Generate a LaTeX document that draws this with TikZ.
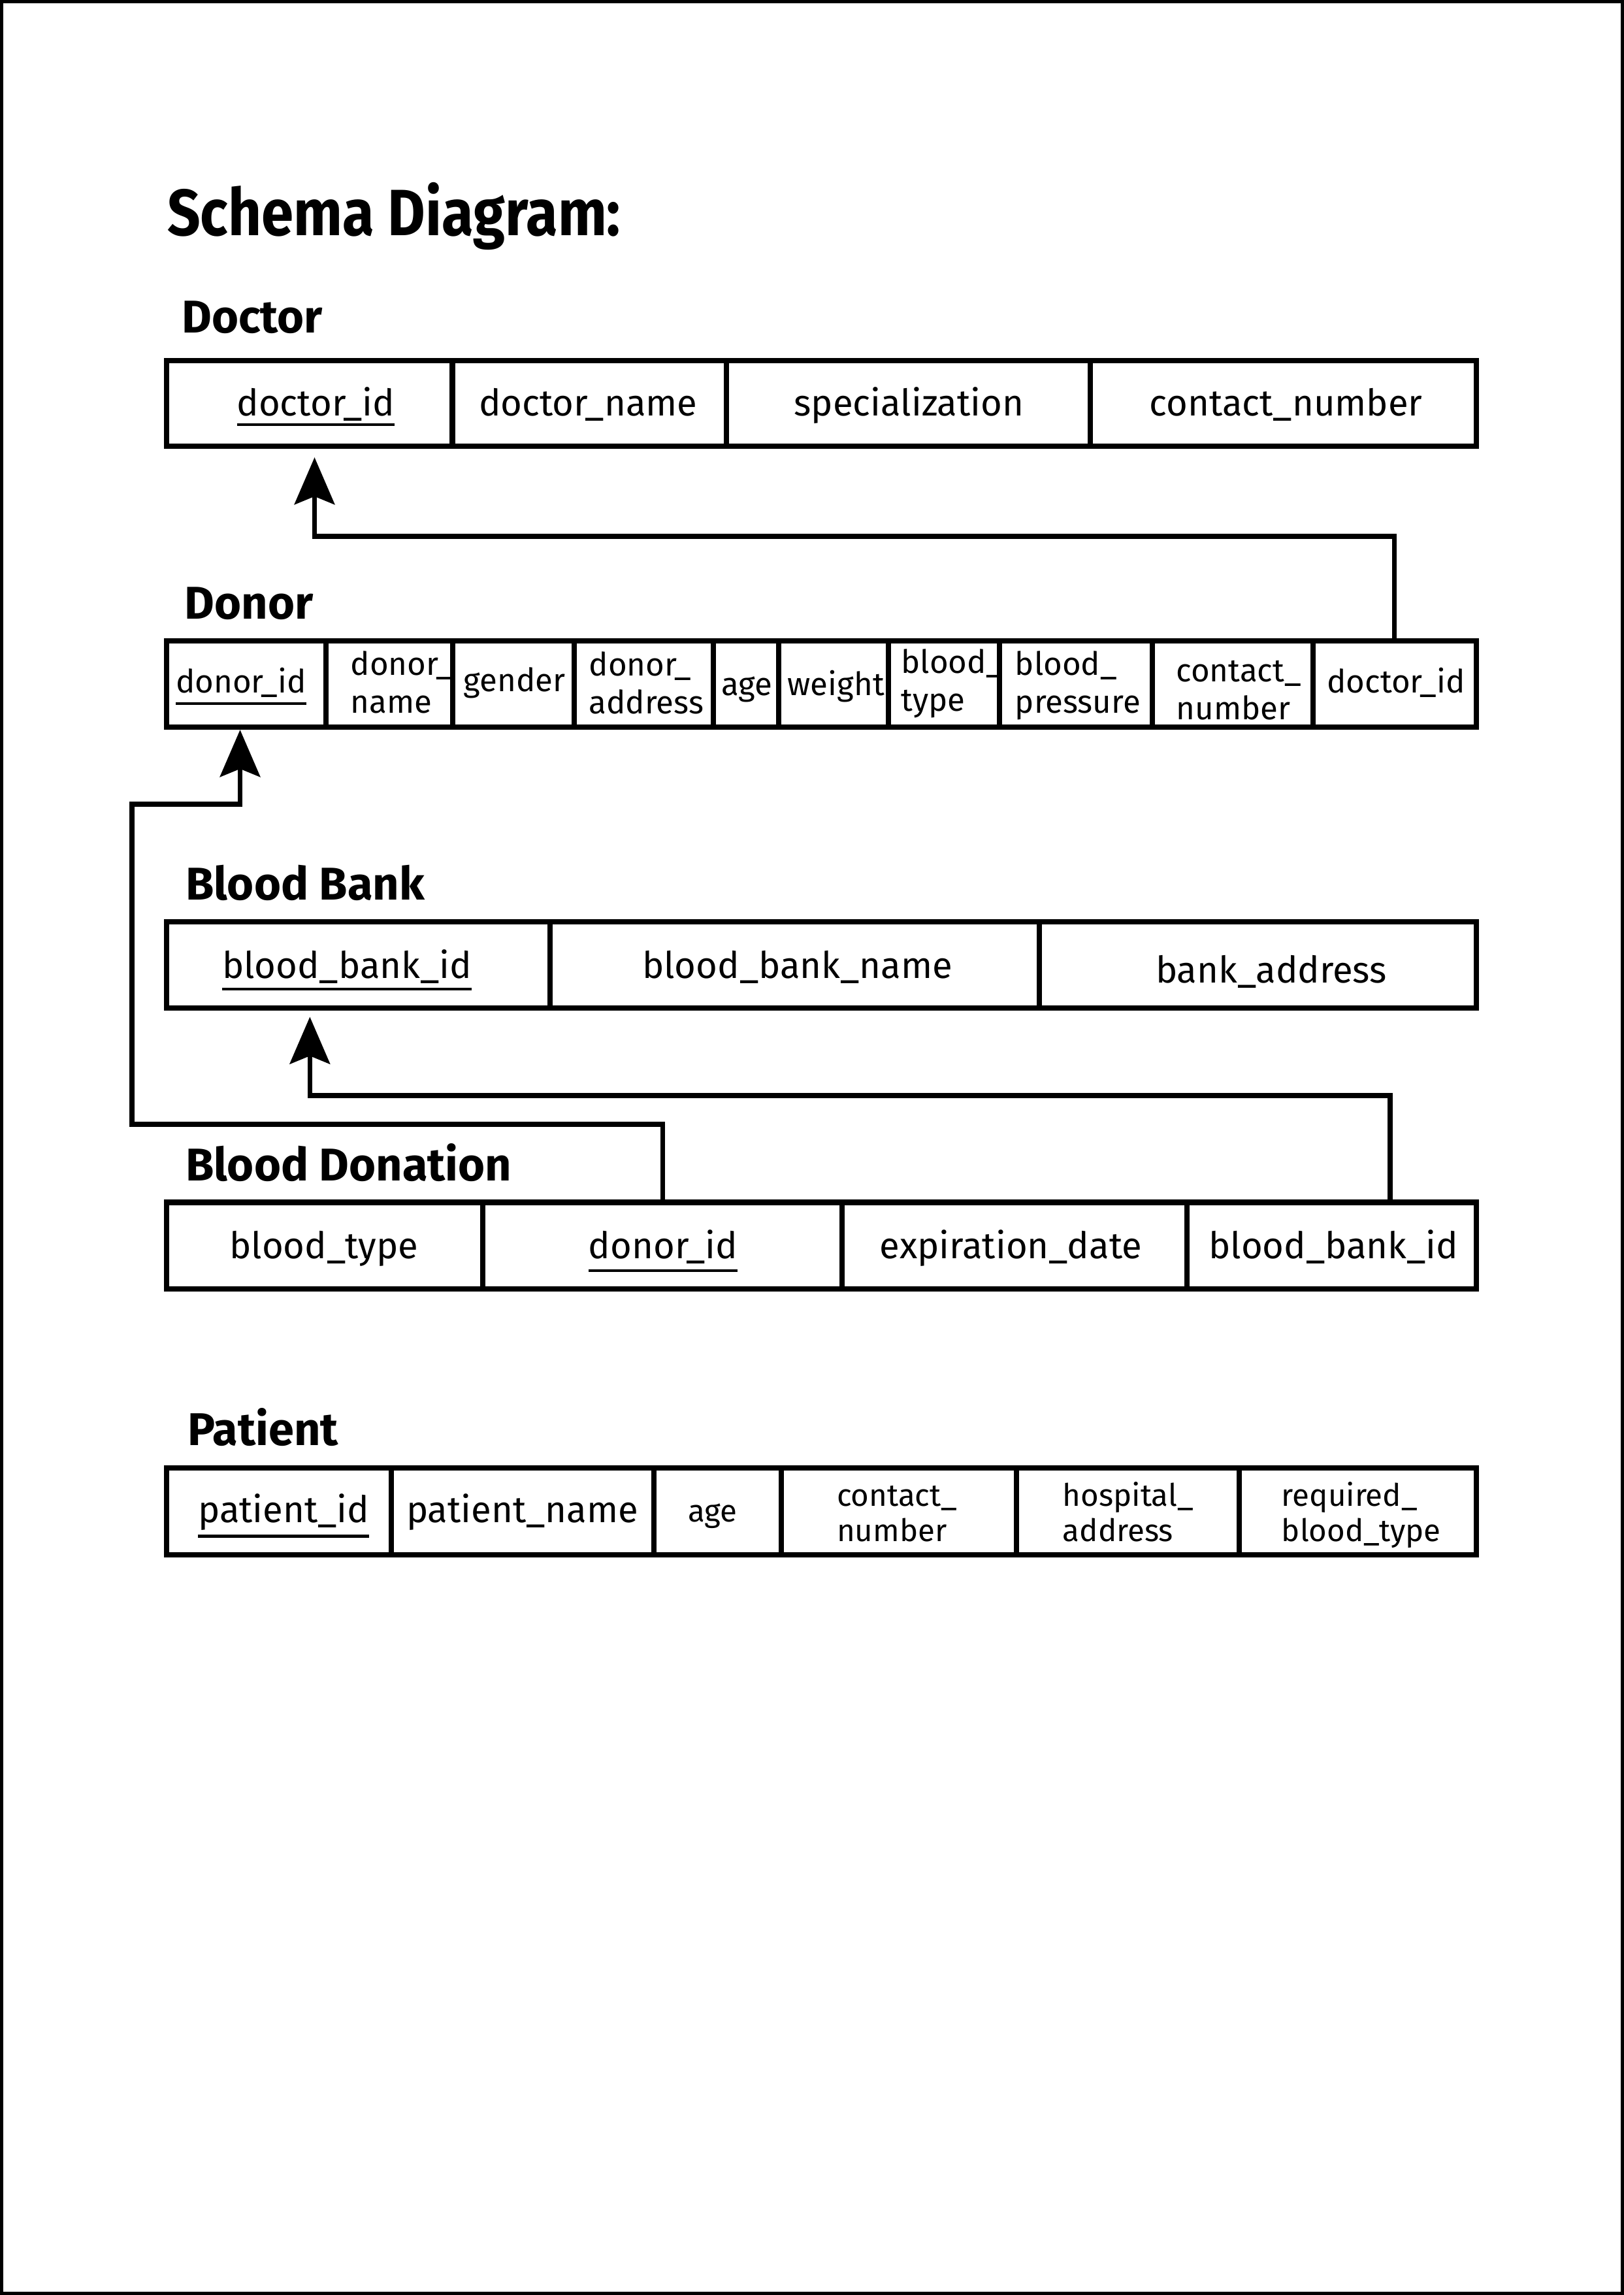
\documentclass[tikz,border=0pt]{standalone}
\usepackage{fontspec}
\usepackage{graphicx}
\setmainfont{Fira Sans}
\usetikzlibrary{arrows.meta,calc}
\newcommand{\erCell}[5]{\node[tbl, minimum width={(#3-#2)*0.022396cm}, minimum height={(#5-#4)*0.022396cm}] (#1) at ({(#2+#3)/2},{(#4+#5)/2}) {};}
\begin{document}
\begin{tikzpicture}[x=0.022396cm, y=-0.022396cm,
  tbl/.style={draw, line width=2.3pt, inner sep=0pt, outer sep=0pt},
  txt/.style={inner sep=0pt, outer sep=0pt, anchor=base},
  ultxt/.style={line width=1.2pt},
  fk/.style={line width=2.1pt, -{Stealth[length=20.5pt, width=17.5pt, inset=3.5pt]}},
  fsmain/.style={font=\fontsize{16}{19}\selectfont},
  fsdonor/.style={font=\fontsize{14}{16.5}\selectfont},
  fspat/.style={font=\fontsize{13.5}{15.6}\selectfont},
  heading/.style={inner sep=0pt, anchor=base west, font=\fontsize{20}{24}\selectfont\bfseries},
  title/.style={inner sep=0pt, anchor=base west, font=\fontsize{28.5}{32}\selectfont\bfseries}]
\useasboundingbox (0,0) rectangle (1110,1568.6);
\draw[line width=1.4pt] (1.1,1.1) rectangle (1108.9,1567.5);

\node[title] (ttl) at (114,161) {\scalebox{0.885}[1]{Schema Diagram:}};

% Doctor
\node[heading] (hdoc) at (124,227.7) {Doctor};
\erCell{doc1}{114}{309.2}{246.5}{305}
\erCell{doc2}{309.2}{496.7}{246.5}{305}
\erCell{doc3}{496.7}{745.1}{246.5}{305}
\erCell{doc4}{745.1}{1009}{246.5}{305}
\node[txt,fsmain] (doc1t) at (215.8,284.3) {doctor\_id};
\node[txt,fsmain] (doc2t) at (402,284.3) {doctor\_name};
\node[txt,fsmain] (doc3t) at (621.3,284.3) {specialization};
\node[txt,fsmain] (doc4t) at (879,284.3) {contact\_number};
\draw[ultxt] ([yshift=-3.7pt]doc1t.base west) -- ([yshift=-3.7pt]doc1t.base east);

% Donor
\node[heading] (hdn) at (126,423) {Donor};
\erCell{dn1}{114}{223}{438}{497}
\erCell{dn2}{223}{309.3}{438}{497}
\erCell{dn3}{309.3}{392.5}{438}{497}
\erCell{dn4}{392.5}{487.7}{438}{497}
\erCell{dn5}{487.7}{532.2}{438}{497}
\erCell{dn6}{532.2}{607.2}{438}{497}
\erCell{dn7}{607.2}{683}{438}{497}
\erCell{dn8}{683}{787.8}{438}{497}
\erCell{dn9}{787.8}{897.4}{438}{497}
\erCell{dn10}{897.4}{1009}{438}{497}
\node[txt,fsdonor] (dn1t) at (164.7,473.5) {donor\_id};
\draw[ultxt] ([yshift=-4.6pt]dn1t.base west) -- ([yshift=-4.6pt]dn1t.base east);
\node[txt,fsdonor,anchor=base west] (dn2t) at (239.7,461.5) {\begin{tabular}[t]{@{}l@{}}donor\_\\name\end{tabular}};
\node[txt,fsdonor] (dn3t) at (351.7,472.5) {gender};
\node[txt,fsdonor,anchor=base west] (dn4t) at (402.6,461.8) {\begin{tabular}[t]{@{}l@{}}donor\_\\address\end{tabular}};
\node[txt,fsdonor] (dn5t) at (510.5,475.5) {age};
\node[txt,fsdonor] (dn6t) at (571.4,475.5) {weight};
\node[txt,fsdonor,anchor=base west] (dn7t) at (616,460.3) {\begin{tabular}[t]{@{}l@{}}blood\_\\type\end{tabular}};
\node[txt,fsdonor,anchor=base west] (dn8t) at (693.8,461.4) {\begin{tabular}[t]{@{}l@{}}blood\_\\pressure\end{tabular}};
\node[txt,fsdonor,anchor=base west] (dn9t) at (804,465.8) {\begin{tabular}[t]{@{}l@{}}contact\_\\number\end{tabular}};
\node[txt,fsdonor] (dn10t) at (954.2,473.3) {doctor\_id};

% Blood Bank
\node[heading] (hbb) at (126.5,615) {Blood Bank};
\erCell{bb1}{114}{375.8}{630}{688.8}
\erCell{bb2}{375.8}{710.4}{630}{688.8}
\erCell{bb3}{710.4}{1009}{630}{688.8}
\node[txt,fsmain] (bb1t) at (237.1,668.8) {blood\_bank\_id};
\draw[ultxt] ([yshift=-4.7pt]bb1t.base west) -- ([yshift=-4.7pt]bb1t.base east);
\node[txt,fsmain] (bb2t) at (545,668.8) {blood\_bank\_name};
\node[txt,fsmain] (bb3t) at (868.9,671.9) {bank\_address};

% Blood Donation
\node[heading] (hbd) at (126.5,807.2) {Blood Donation};
\erCell{bd1}{114}{330.1}{821.8}{881}
\erCell{bd2}{330.1}{575.7}{821.8}{881}
\erCell{bd3}{575.7}{811.3}{821.8}{881}
\erCell{bd4}{811.3}{1009}{821.8}{881}
\node[txt,fsmain] (bd1t) at (221.4,860.3) {blood\_type};
\node[txt,fsmain] (bd2t) at (453.2,860.3) {donor\_id};
\draw[ultxt] ([yshift=-5.3pt]bd2t.base west) -- ([yshift=-5.3pt]bd2t.base east);
\node[txt,fsmain] (bd3t) at (691,860.3) {expiration\_date};
\node[txt,fsmain] (bd4t) at (911.5,860.3) {blood\_bank\_id};

% Patient
\node[heading] (hpt) at (128,988) {Patient};
\erCell{pt1}{114}{267.5}{1003.3}{1062.5}
\erCell{pt2}{267.5}{447}{1003.3}{1062.5}
\erCell{pt3}{447}{534}{1003.3}{1062.5}
\erCell{pt4}{534}{694.7}{1003.3}{1062.5}
\erCell{pt5}{694.7}{847.2}{1003.3}{1062.5}
\erCell{pt6}{847.2}{1009}{1003.3}{1062.5}
\node[txt,fsmain] (pt1t) at (193.9,1040.4) {patient\_id};
\draw[ultxt] ([yshift=-6.1pt]pt1t.base west) -- ([yshift=-6.1pt]pt1t.base east);
\node[txt,fsmain] (pt2t) at (357,1040.4) {patient\_name};
\node[txt,fspat] (pt3t) at (487,1040) {age};
\node[txt,fspat,anchor=base west] (pt4t) at (572,1029.2) {\begin{tabular}[t]{@{}l@{}}contact\_\\number\end{tabular}};
\node[txt,fspat,anchor=base west] (pt5t) at (726.4,1029.2) {\begin{tabular}[t]{@{}l@{}}hospital\_\\address\end{tabular}};
\node[txt,fspat,anchor=base west] (pt6t) at (876,1029.2) {\begin{tabular}[t]{@{}l@{}}required\_\\blood\_type\end{tabular}};

% Foreign keys
\draw[fk] (dn10.north) -- ++(0,-71.5) -| ($(doc1.south)+(3.4,7.6)$);
\draw[fk] (bd2.north) -- ++(0,-53.3) -| (90.2,549.6) -| ($(dn1.south)+(-4.4,1.8)$);
\draw[fk] ($(bd4.north)+(40,0)$) -- ++(0,-73) -| ($(bb1.south)+(-33.1,6.2)$);
\end{tikzpicture}
\end{document}
